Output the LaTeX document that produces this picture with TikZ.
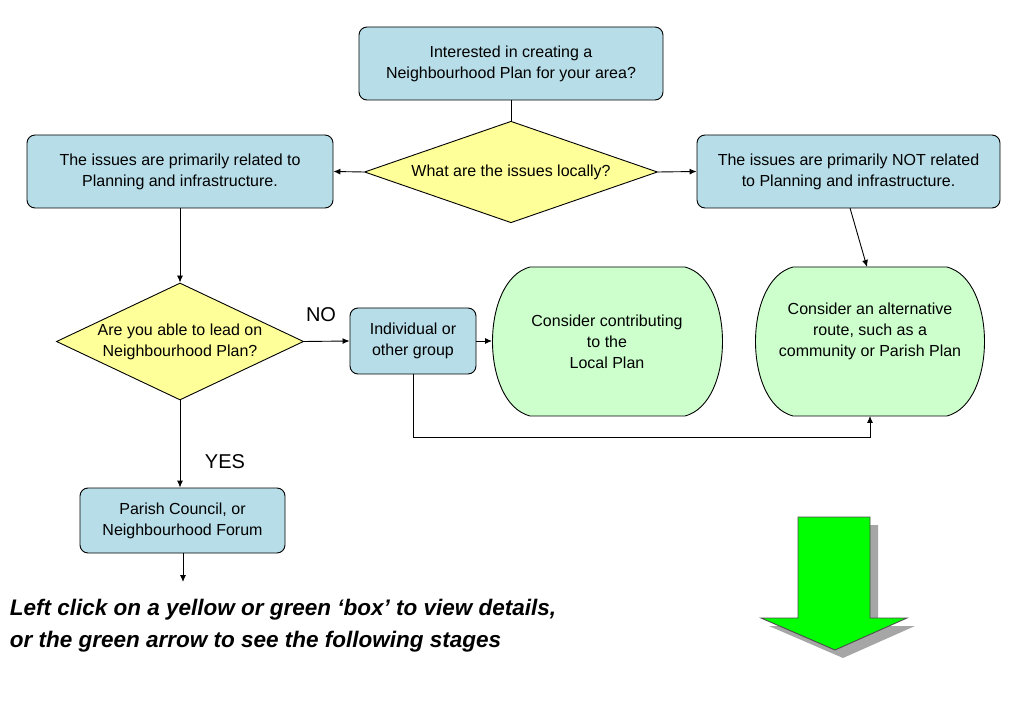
\documentclass[tikz,border=0pt]{standalone}
\usepackage{fontspec}
\setmainfont{Liberation Sans}
\usetikzlibrary{shapes.geometric,arrows.meta}
\definecolor{bluebox}{HTML}{B7DDE8}
\definecolor{yel}{HTML}{FFFF99}
\definecolor{grn}{HTML}{CCFFCC}
\begin{document}
\begin{tikzpicture}[x=1pt,y=-1pt,line width=0.9pt,
  box/.style={draw,fill=bluebox,rounded corners=8pt,align=center,font=\fontsize{16}{21}\selectfont,inner sep=0pt},
  dia/.style={draw,fill=yel,diamond,aspect=2.3,align=center,font=\fontsize{16}{21}\selectfont,inner sep=0pt},
  arr/.style={-{Latex[length=7pt,width=6pt]}},
  lbl/.style={font=\fontsize{20}{22}\selectfont}]
\useasboundingbox (0,0) rectangle (1023,708);
\node[box,minimum width=304pt,minimum height=73pt] (top) at (511,63.5) {Interested in creating a\\Neighbourhood Plan for your area?};
\node[dia,minimum width=293pt,minimum height=87pt] (d1) at (511,172) {What are the issues locally?};
\node[box,minimum width=306pt,minimum height=73pt] (lb) at (180,171.5) {The issues are primarily related to\\Planning and infrastructure.};
\node[box,minimum width=303pt,minimum height=73pt] (rb) at (848.5,171.5) {The issues are primarily NOT related\\to Planning and infrastructure.};
\node[dia,minimum width=244pt,minimum height=117pt] (d2) at (180,341.5) {Are you able to lead on\\Neighbourhood Plan?};
\node[box,minimum width=126pt,minimum height=66pt] (ind) at (413,341) {Individual or\\other group};
\node[box,minimum width=205pt,minimum height=65pt] (par) at (182.5,520.5) {Parish Council, or\\Neighbourhood Forum};
% green shapes
\draw[fill=grn] (530,267) -- (685,267) .. controls (735,280) and (735,403) .. (685,416) -- (530,416) .. controls (480,403) and (480,280) .. (530,267) -- cycle;
\node[align=center,font=\fontsize{16}{21}\selectfont] (g1) at (607,342) {Consider contributing\\to the\\Local Plan};
\draw[fill=grn] (793,267) -- (947,267) .. controls (997,280) and (997,403) .. (947,416) -- (793,416) .. controls (743,403) and (743,280) .. (793,267) -- cycle;
\node[align=center,font=\fontsize{16}{21}\selectfont] (g2) at (870,331) {Consider an alternative\\route, such as a\\community or Parish Plan};
\coordinate (g1w) at (492,341);
\coordinate (g2n) at (867,267);
\coordinate (g2s) at (870,416);
\coordinate (rbs) at (850,208);
% connectors
\draw (top.south) -- (d1.north);
\draw[arr] (d1.west) -- (lb.east);
\draw[arr] (d1.east) -- (rb.west);
\draw[arr] (lb.south) -- (d2.north);
\draw[arr] (d2.east) -- (ind.west);
\draw[arr] (ind.east) -- (g1w);
\draw[arr] (rbs) -- (g2n);
\draw[arr] (ind.south) |- (g2s |- 0,437) -- (g2s);
\draw[arr] (d2.south) -- (par.north -| d2.south);
\coordinate (pend) at (183,582);
\draw[arr] (183,553) -- (pend);
\node[lbl] (no) at (321,315) {NO};
\node[lbl] (yes) at (225,462) {YES};
\node[anchor=north west,align=left,font=\fontsize{22.5}{32}\selectfont\bfseries\itshape] (txt) at (6,595) {Left click on a yellow or green ‘box’ to view details,\\or the green arrow to see the following stages};
% big arrow
\fill[gray!70] (806,525) -- (878,525) -- (878,626) -- (915,626) -- (843,658) -- (769,626) -- (806,626) -- cycle;
\draw[fill=green,draw=black!70] (798,517) -- (870,517) -- (870,618) -- (907,618) -- (835,650) -- (761,618) -- (798,618) -- cycle;
\end{tikzpicture}
\end{document}
